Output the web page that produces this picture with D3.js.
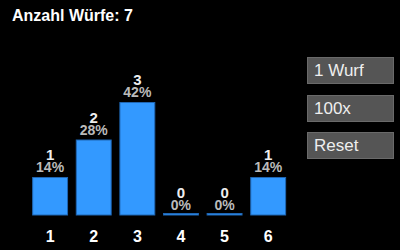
<!DOCTYPE html>
<html>
<head>
<meta charset="utf-8">
<script src="https://cdn.jsdelivr.net/npm/d3@7"></script>
<style>
  html, body { margin: 0; padding: 0; background: #000; }
  body { width: 400px; height: 250px; position: relative; overflow: hidden; font-family: "Liberation Sans", Arial, sans-serif; }
  .btn {
    position: absolute; left: 307px; width: 87px; height: 27px;
    box-sizing: border-box; background: #555; border: 1px solid #6a6a6a;
    color: #eee; font-size: 17px; line-height: 25px; padding-left: 6px;
  }
</style>
</head>
<body>
<script>
const faces = [1, 2, 3, 4, 5, 6];
const counts = [1, 2, 3, 0, 0, 1];
const buttons = ['1 Wurf', '100x', 'Reset'];

const total = d3.sum(counts);
const data = faces.map((f, i) => ({ face: f, count: counts[i] }));

var svg = d3.select("body")
    .append("svg")
    .attr("width", 400)
    .attr("height", 250)
    .style("position", "absolute")
    .style("left", 0)
    .style("top", 0);

svg.append("rect").attr("width", 400).attr("height", 250).attr("fill", "#000");

// title
svg.append("text")
    .attr("x", 12)
    .attr("y", 20.5)
    .attr("fill", "#fff")
    .style("font-size", "16px")
    .style("font-weight", "bold")
    .text("Anzahl Würfe: " + total);

var x = d3.scaleBand()
    .domain(faces)
    .range([28.3, 290])
    .paddingInner(0.2)
    .paddingOuter(0.1);

var y = d3.scaleLinear()
    .domain([0, d3.max(counts)])
    .range([215, 102.5]);

// bars
svg.selectAll(".bar")
    .data(data)
    .enter().append("rect")
    .attr("class", "bar")
    .attr("x", d => x(d.face))
    .attr("width", x.bandwidth())
    .attr("y", d => Math.min(y(d.count), y(0) - 1.5))
    .attr("height", d => Math.max(y(0) - y(d.count), 1.5))
    .attr("fill", "#3399ff")
    .attr("stroke", "#1f66b3")
    .attr("stroke-width", 1);

// count labels
svg.selectAll(".cnt")
    .data(data)
    .enter().append("text")
    .attr("x", d => x(d.face) + x.bandwidth() / 2)
    .attr("y", d => y(d.count) - 17.5)
    .attr("text-anchor", "middle")
    .attr("fill", "#eee")
    .style("font-size", "15px")
    .style("font-weight", "bold")
    .text(d => d.count);

// percent labels
svg.selectAll(".pct")
    .data(data)
    .enter().append("text")
    .attr("x", d => x(d.face) + x.bandwidth() / 2)
    .attr("y", d => y(d.count) - 5.5)
    .attr("text-anchor", "middle")
    .attr("fill", "#bbb")
    .style("font-size", "14px")
    .style("font-weight", "bold")
    .text(d => Math.floor(d.count / total * 100) + "%");

// x axis labels
svg.selectAll(".xl")
    .data(faces)
    .enter().append("text")
    .attr("x", d => x(d) + x.bandwidth() / 2)
    .attr("y", 241.5)
    .attr("text-anchor", "middle")
    .attr("fill", "#fff")
    .style("font-size", "16px")
    .style("font-weight", "bold")
    .text(d => d);

// buttons
d3.select("body").selectAll(".btn")
    .data(buttons)
    .enter().append("div")
    .attr("class", "btn")
    .style("top", (d, i) => (57 + i * 37.5) + "px")
    .text(d => d);
</script>
</body>
</html>
